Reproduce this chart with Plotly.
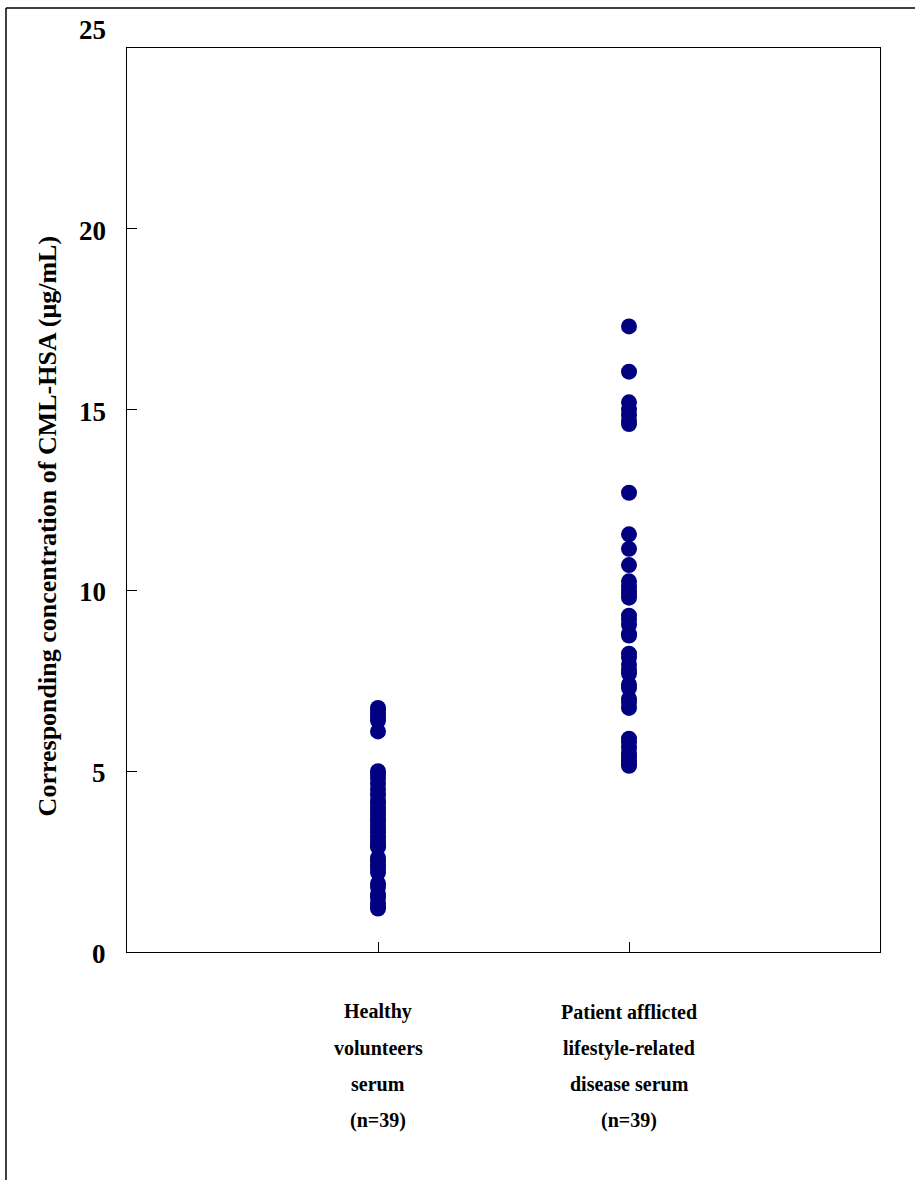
import plotly.graph_objects as go

categories = ["Healthy", "Patient"]
category_lines = [
    ["Healthy", "volunteers", "serum", "(n=39)"],
    ["Patient afflicted", "lifestyle-related", "disease serum", "(n=39)"],
]
healthy = [6.75, 6.68, 6.6, 6.5, 6.4, 6.1,
           5.0, 4.9, 4.8, 4.65, 4.5, 4.35, 4.2, 4.1, 4.0, 3.9, 3.8, 3.7, 3.6,
           3.5, 3.4, 3.3, 3.2, 3.1, 3.0, 2.95, 2.9, 2.6, 2.5, 2.4, 2.3, 2.2,
           1.9, 1.8, 1.6, 1.5, 1.35, 1.25, 1.2]
patient = [17.3, 16.05, 15.2, 15.0, 14.85, 14.7, 14.6, 12.7,
           11.55, 11.15, 10.7, 10.25, 10.1, 10.0, 9.9, 9.8, 9.3, 9.2, 9.05,
           8.8, 8.75, 8.25, 8.15, 7.95, 7.8, 7.7, 7.4, 7.3, 7.0, 6.9, 6.75,
           5.9, 5.8, 5.65, 5.5, 5.4, 5.3, 5.2, 5.15]
y_ticks = [0, 5, 10, 15, 20, 25]
y_title = "Corresponding concentration of CML-HSA (μg/mL)"

FONT = "Liberation Serif"
NAVY = "#000080"

fig = go.Figure()
fig.add_trace(go.Scatter(
    x=[1] * len(healthy), y=healthy, mode="markers",
    marker=dict(color=NAVY, size=16, line=dict(width=0)), showlegend=False))
fig.add_trace(go.Scatter(
    x=[2] * len(patient), y=patient, mode="markers",
    marker=dict(color=NAVY, size=16, line=dict(width=0)), showlegend=False))

annotations = []
for i, lines in enumerate(category_lines):
    for j, line in enumerate(lines):
        annotations.append(dict(
            x=i + 1, xref="x", y=-0.066 - j * 0.0402, yref="paper",
            text="<b>%s</b>" % line, showarrow=False,
            font=dict(family=FONT, size=20, color="black"),
            xanchor="center", yanchor="middle"))
for v in y_ticks:
    annotations.append(dict(
        x=-0.025, xref="paper", y=v, yref="y", text="<b>%d</b>" % v,
        showarrow=False, font=dict(family=FONT, size=27, color="black"),
        xanchor="right", yanchor="middle",
        yshift=18 if v == max(y_ticks) else -2))
annotations.append(dict(
    x=-0.106, xref="paper", y=0.471, yref="paper", text="<b>%s</b>" % y_title,
    textangle=-90, showarrow=False,
    font=dict(family=FONT, size=26, color="black"),
    xanchor="center", yanchor="middle"))

fig.update_layout(
    width=915, height=1180,
    margin=dict(l=127, r=35, t=48, b=228),
    paper_bgcolor="white", plot_bgcolor="white",
    annotations=annotations,
    shapes=[
        dict(type="line", xref="paper", yref="paper", x0=-0.1607, x1=1.3,
             y0=1.0442, y1=1.0442, line=dict(color="black", width=1.5)),
        dict(type="line", xref="paper", yref="paper", x0=-0.1607, x1=-0.1607,
             y0=1.0442, y1=-0.3, line=dict(color="black", width=1.5)),
    ],
)
fig.update_xaxes(range=[0, 3], tickvals=[1, 2], ticktext=["", ""],
                 ticks="inside", ticklen=10, tickcolor="black",
                 showgrid=False, zeroline=False, showline=True,
                 linecolor="black", linewidth=1, mirror=True)
fig.update_yaxes(range=[0, 25], tickvals=y_ticks, showticklabels=False,
                 ticks="inside", ticklen=10, tickcolor="black",
                 showgrid=False, zeroline=False, showline=True,
                 linecolor="black", linewidth=1, mirror=True)

fig.write_html("out.html",
               config={"displayModeBar": False},
               post_script="document.body.style.margin='0';"
                           "document.body.style.overflow='hidden';")
